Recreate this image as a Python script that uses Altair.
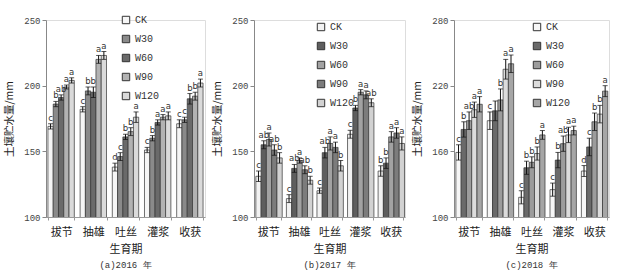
import altair as alt
import pandas as pd

stages = ["拔节", "抽雄", "吐丝", "灌浆", "收获"]
treatments = ["CK", "W30", "W60", "W90", "W120"]

# mean soil water storage (mm), rows = stages, cols = treatments
mean_2016 = [[169, 186, 191, 199, 204],
             [182, 196, 195, 220, 223],
             [138, 146, 161, 165, 176],
             [151, 160, 172, 176, 177],
             [171, 174, 190, 192, 202]]
err_2016 = [[2, 2, 2, 1.5, 2],
            [2, 3, 4, 3, 3],
            [3, 3, 2, 3, 4],
            [2, 2, 2, 2, 3],
            [3, 2, 4, 3, 3]]
let_2016 = [["c", "b", "ab", "a", "a"],
            ["c", "b", "b", "a", "a"],
            ["d", "c", "b", "b", "a"],
            ["c", "b", "a", "a", "a"],
            ["c", "c", "b", "b", "a"]]

mean_2017 = [[131, 155, 159, 151, 145],
             [114, 137, 143, 136, 128],
             [120, 149, 156, 153, 139],
             [163, 183, 195, 193, 187],
             [135, 141, 161, 164, 156]]
err_2017 = [[4, 3, 5, 4, 4],
            [3, 3, 2, 3, 3],
            [2, 4, 5, 4, 4],
            [3, 2, 2, 3, 3],
            [4, 4, 4, 4, 5]]
let_2017 = [["c", "ab", "a", "ab", "b"],
            ["c", "ab", "a", "ab", "b"],
            ["c", "ab", "a", "a", "b"],
            ["c", "b", "a", "a", "ab"],
            ["b", "b", "a", "a", "a"]]

mean_2018 = [[159, 180, 188, 198, 203],
             [188, 197, 207, 235, 240],
             [118, 145, 150, 158, 175],
             [125, 152, 167, 175, 179],
             [142, 164, 187, 194, 215]]
err_2018 = [[7, 7, 8, 7, 7],
            [8, 9, 10, 9, 8],
            [6, 6, 5, 6, 4],
            [6, 7, 7, 7, 4],
            [5, 8, 8, 8, 5]]
let_2018 = [["c", "b", "ab", "a", "a"],
            ["c", "", "b", "a", "a"],
            ["c", "b", "b", "b", "a"],
            ["c", "b", "ab", "a", "a"],
            ["d", "c", "b", "b", "a"]]

colors_2016 = ["#f6f6f6", "#8a8a8a", "#6a6a6a", "#b2b2b2", "#dadada"]
colors_2017 = ["#f2f2f2", "#5e5e5e", "#a2a2a2", "#7c7c7c", "#d2d2d2"]
colors_2018 = ["#f6f6f6", "#6a6a6a", "#9c9c9c", "#dcdcdc", "#a6a6a6"]

CJK = "Noto Sans CJK SC"
MONO = "Liberation Mono"


def panel(caption, means, errs, letters, colors, ydomain, yticks, lx, ly, w):
    rows = []
    for i, s in enumerate(stages):
        for j, t in enumerate(treatments):
            m = means[i][j]
            e = errs[i][j]
            rows.append({"stage": s, "trt": t, "v": m, "lo": m - e,
                         "hi": m + e, "lab": letters[i][j]})
    df = pd.DataFrame(rows)
    base = alt.Chart(df)
    x = alt.X("stage:N", sort=stages, title="生育期",
              scale=alt.Scale(paddingInner=0.18, paddingOuter=0.06),
              axis=alt.Axis(labelAngle=0, labelFont=CJK, labelFontSize=11,
                            labelColor="#222", labelPadding=6,
                            titleFont=CJK, titleFontSize=11, titleColor="#222",
                            titleFontWeight="normal", titlePadding=6,
                            tickBand="extent", tickSize=3, tickColor="#999",
                            domainColor="#999"))
    xo = alt.XOffset("trt:N", sort=treatments,
                     scale=alt.Scale(paddingInner=0.0, paddingOuter=0.0))
    yscale = alt.Scale(domain=ydomain, nice=False, zero=False)
    bars = base.mark_bar(stroke="#333", strokeWidth=0.7, clip=True).encode(
        x=x, xOffset=xo,
        y=alt.Y("v:Q", scale=yscale, title="土壤贮水量/mm",
                axis=alt.Axis(values=yticks, grid=False, labelFont=MONO,
                              labelFontSize=9, labelColor="#444",
                              tickSize=4, tickColor="#888", domainColor="#888",
                              titleFont=CJK, titleFontSize=10.5,
                              titleColor="#222", titleFontWeight="normal",
                              titlePadding=9)),
        color=alt.Color("trt:N", sort=treatments,
                        scale=alt.Scale(domain=treatments, range=colors),
                        legend=alt.Legend(orient="none", legendX=lx,
                                          legendY=ly, title=None,
                                          symbolType="square", symbolSize=55,
                                          symbolStrokeColor="#333",
                                          symbolStrokeWidth=1,
                                          labelFont=MONO, labelFontSize=10,
                                          labelColor="#333",
                                          rowPadding=7)),
    )
    rule = base.mark_rule(color="#111", strokeWidth=1).encode(
        x=x, xOffset=xo, y=alt.Y("lo:Q", scale=yscale), y2="hi:Q")
    cap_hi = base.mark_tick(color="#111", orient="horizontal", size=5,
                            thickness=1).encode(
        x=x, xOffset=xo, y=alt.Y("hi:Q", scale=yscale))
    cap_lo = base.mark_tick(color="#111", orient="horizontal", size=5,
                            thickness=1).encode(
        x=x, xOffset=xo, y=alt.Y("lo:Q", scale=yscale))
    text = base.mark_text(baseline="bottom", dy=-1, fontSize=8.5,
                          font="DejaVu Sans", color="#333").encode(
        x=x, xOffset=xo, y=alt.Y("hi:Q", scale=yscale), text="lab:N")
    return alt.layer(bars, rule, cap_hi, cap_lo, text).properties(
        width=w, height=197,
        title=alt.TitleParams(caption, orient="bottom", font=MONO,
                              fontSize=9, fontWeight="normal", color="#333",
                              offset=7))


pa = panel("(a)2016 年", mean_2016, err_2016, let_2016, colors_2016,
           [100, 250], [100, 150, 200, 250], 75, -5, 159)
pb = panel("(b)2017 年", mean_2017, err_2017, let_2017, colors_2017,
           [100, 250], [100, 150, 200, 250], 62, 2, 151)
pc = panel("(c)2018 年", mean_2018, err_2018, let_2018, colors_2018,
           [100, 280], [100, 160, 220, 280], 78, 2, 155)

chart = alt.hconcat(pa, pb, pc, spacing=6).resolve_scale(
    color="independent", y="independent", x="independent"
).properties(
    padding={"left": 4, "top": 14, "right": 2, "bottom": 2}
).configure_view(stroke=None).configure(background="white")

chart.save("out.html", embed_options={"renderer": "svg", "actions": False})
